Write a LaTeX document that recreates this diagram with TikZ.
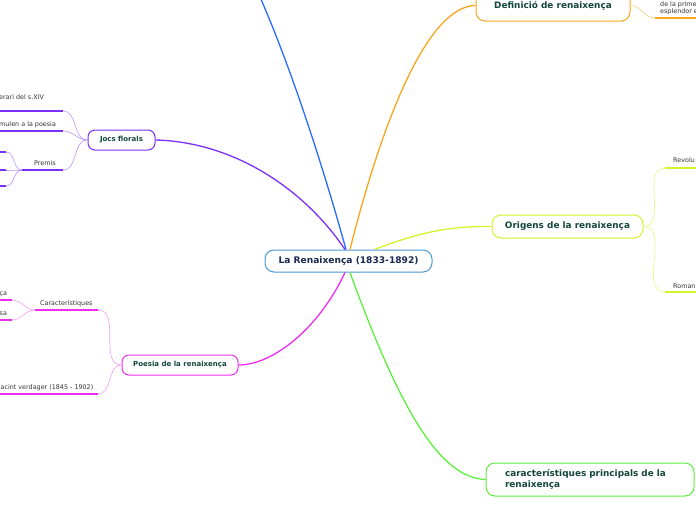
\documentclass[tikz,border=0pt]{standalone}
\usepackage{fontspec}
\setmainfont{DejaVu Sans}
\definecolor{blueL}{HTML}{2B6BFF}
\definecolor{purpleL}{HTML}{7B2FF7}
\definecolor{purpleS}{HTML}{B592FF}
\definecolor{orangeL}{HTML}{F8A51C}
\definecolor{orangeS}{HTML}{FBCB7E}
\definecolor{yellowL}{HTML}{D6F22A}
\definecolor{yellowS}{HTML}{E6F884}
\definecolor{magentaL}{HTML}{EE2EEE}
\definecolor{magentaS}{HTML}{F59AF5}
\definecolor{greenL}{HTML}{5CF03C}
\definecolor{rootB}{HTML}{4A98D6}
\definecolor{nodeT}{HTML}{12473A}
\definecolor{rootT}{HTML}{1B2A4E}
\begin{document}
\begin{tikzpicture}[x=1pt,y=-1pt,
  topic/.style={draw, rounded corners=9pt, line width=1pt, fill=white, inner sep=0pt,
    text=nodeT, font=\bfseries\fontsize{8.9}{10.8}\selectfont},
  smalltopic/.style={topic, rounded corners=7pt, font=\bfseries\fontsize{7}{8}\selectfont},
  lbl/.style={inner sep=0pt, text=black!80, font=\fontsize{6.4}{7.6}\selectfont},
  mainline/.style={line width=1.3pt},
  subline/.style={line width=0.6pt},
  uline/.style={line width=1.4pt}
]
\path[use as bounding box] (0,0) rectangle (696,520);
\clip (0,0) rectangle (696,520);

% central node
\node[topic, draw=rootB, text=rootT, minimum width=167pt, minimum height=22pt,
  font=\bfseries\fontsize{9.1}{10.8}\selectfont] (c) at (348.5,261) {La Renaixença (1833-1892)};

% main topics
\node[topic, draw=orangeL, minimum width=154pt, minimum height=31pt] (def) at (553,5.5) {Definició de renaixença};
\node[topic, draw=yellowL, minimum width=151pt, minimum height=23pt] (ori) at (567.5,226.5) {Origens de la renaixença};
\node[topic, draw=greenL, minimum width=208pt, minimum height=33pt, text width=170pt, align=left] (car) at (590,479.5) {característiques principals de la\\renaixença};
\node[smalltopic, draw=purpleL, minimum width=67pt, minimum height=20pt] (jocs) at (121.5,140) {Jocs florals};
\node[smalltopic, draw=magentaL, minimum width=116pt, minimum height=20pt] (poe) at (180,365) {Poesia de la renaixença};

% main connectors
\coordinate (top) at (260,-3);
\draw[mainline, blueL] ([xshift=-2.5pt]c.north) .. controls (324,170) and (292,70) .. (top);
\draw[mainline, purpleL] ([xshift=-3.5pt]c.north) .. controls (305,190) and (235,142) .. (jocs.east);
\draw[mainline, orangeL] ([xshift=1.5pt]c.north) .. controls (385,110) and (430,6) .. (def.west);
\draw[mainline, yellowL] ([xshift=26pt]c.north) .. controls (420,232) and (450,226) .. (ori.west);
\draw[mainline, magentaL] ([xshift=-3.5pt]c.south) .. controls (318,330) and (272,365) .. (poe.east);
\draw[mainline, greenL] ([xshift=1.5pt]c.south) .. controls (400,410) and (440,478) .. (car.west);

% Definició subtopic
\coordinate (d1a) at (655,18); \coordinate (d1b) at (700,18);
\draw[subline, orangeS] (def.east) to[out=0,in=180] (d1a);
\draw[uline, orangeL] (d1a) -- (d1b);
\node[lbl, anchor=north west, align=left] (d1t) at (660,1.0) {de la prime\\esplendor e};

% Origens subtopics
\coordinate (o1a) at (665,168); \coordinate (o1b) at (700,168);
\coordinate (o2a) at (665,292); \coordinate (o2b) at (700,292);
\draw[subline, yellowS] (ori.east) to[out=0,in=180] (o1a);
\draw[subline, yellowS] (ori.east) to[out=0,in=180] (o2a);
\draw[uline, yellowL] (o1a) -- (o1b);
\draw[uline, yellowL] (o2a) -- (o2b);
\node[lbl, anchor=base west] (o1t) at (673,162.5) {Revolu};
\node[lbl, anchor=base west] (o2t) at (673,288.5) {Roman};

% Jocs florals subtopics
\coordinate (j1a) at (-5,111); \coordinate (j1b) at (63,111);
\coordinate (j2a) at (-5,131); \coordinate (j2b) at (63,131);
\coordinate (j3a) at (22,170); \coordinate (j3b) at (63,170);
\draw[subline, purpleS] (jocs.west) to[out=180,in=0] (j1b);
\draw[subline, purpleS] (jocs.west) to[out=180,in=0] (j2b);
\draw[subline, purpleS] (jocs.west) to[out=180,in=0] (j3b);
\draw[uline, purpleL] (j1a) -- (j1b);
\draw[uline, purpleL] (j2a) -- (j2b);
\draw[uline, purpleL] (j3a) -- (j3b);
\node[lbl, anchor=base west] (j1t) at (-1,99.5) {erari del s.XIV};
\node[lbl, anchor=base west] (j2t) at (-1,126) {mulen a la poesia};
\node[lbl, anchor=base west] (j3t) at (34,165.5) {Premis};
\coordinate (p1a) at (-5,152); \coordinate (p1b) at (6,152);
\coordinate (p2a) at (-5,170); \coordinate (p2b) at (6,170);
\coordinate (p3a) at (-5,186); \coordinate (p3b) at (6,186);
\draw[subline, purpleS] (j3a) to[out=180,in=0] (p1b);
\draw[subline, purpleS] (j3a) to[out=180,in=0] (p2b);
\draw[subline, purpleS] (j3a) to[out=180,in=0] (p3b);
\draw[uline, purpleL] (p1a) -- (p1b);
\draw[uline, purpleL] (p2a) -- (p2b);
\draw[uline, purpleL] (p3a) -- (p3b);

% Poesia subtopics
\coordinate (m1a) at (35,310); \coordinate (m1b) at (98,310);
\coordinate (m2a) at (-5,394); \coordinate (m2b) at (98,394);
\draw[subline, magentaS] (poe.west) to[out=180,in=0] (m1b);
\draw[subline, magentaS] (poe.west) to[out=180,in=0] (m2b);
\draw[uline, magentaL] (m1a) -- (m1b);
\draw[uline, magentaL] (m2a) -- (m2b);
\node[lbl, anchor=base west] (m1t) at (40,305) {Característiques};
\node[lbl, anchor=base east] (m2t) at (93.5,389.5) {acint verdager (1845 - 1902)};
\coordinate (n1a) at (-5,300); \coordinate (n1b) at (12,300);
\coordinate (n2a) at (-5,320); \coordinate (n2b) at (12,320);
\draw[subline, magentaS] (m1a) to[out=180,in=0] (n1b);
\draw[subline, magentaS] (m1a) to[out=180,in=0] (n2b);
\draw[uline, magentaL] (n1a) -- (n1b);
\draw[uline, magentaL] (n2a) -- (n2b);
\node[lbl, anchor=base west] (n1t) at (-0.5,295.5) {ça};
\node[lbl, anchor=base west] (n2t) at (-0.5,315) {sa};
\end{tikzpicture}
\end{document}
